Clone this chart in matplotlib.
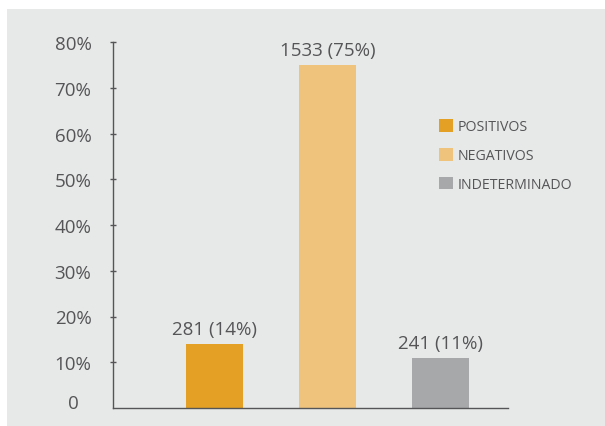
import matplotlib
matplotlib.use('Agg')
import matplotlib.pyplot as plt
from matplotlib.patches import Rectangle, Patch

# datos
categorias = ['POSITIVOS', 'NEGATIVOS', 'INDETERMINADO']
casos = [281, 1533, 241]
porcentajes = [14, 75, 11]
colores = ['#e3a024', '#efc37c', '#a7a8aa']
yticks = [10, 20, 30, 40, 50, 60, 70, 80]

texto = '#555557'
fondo = '#e7e8e8'

plt.rcParams['font.family'] = ['Open Sans', 'DejaVu Sans']

fig = plt.figure(figsize=(6.05, 4.27), dpi=100)
fig.patch.set_facecolor('white')
# panel gris de fondo
fig.patches.append(Rectangle((7 / 605, 0), 1, 1 - 10 / 427, transform=fig.transFigure,
                             facecolor=fondo, edgecolor='none', zorder=-1))

ax = fig.add_axes([113 / 605, 18 / 427, 395 / 605, 366 / 427])
ax.set_facecolor('none')

x = list(range(len(categorias)))
ax.bar(x, porcentajes, width=0.5, color=colores, zorder=2)

for xi, n, p in zip(x, casos, porcentajes):
    ax.annotate('{} ({}%)'.format(n, p), (xi, p), xytext=(0, 4), textcoords='offset points',
                ha='center', va='bottom', fontsize=13.5, color=texto)

ax.set_xlim(-0.898, 2.597)
ax.set_ylim(0, 80)

for s in ['top', 'right']:
    ax.spines[s].set_visible(False)
for s in ['left', 'bottom']:
    ax.spines[s].set_color(texto)
    ax.spines[s].set_linewidth(1.0)

ax.set_xticks([])
ax.set_yticks(yticks)
ax.set_yticklabels(['{}%'.format(v) for v in yticks])
ax.tick_params(axis='y', direction='inout', length=5, width=1.0, color=texto,
               labelcolor=texto, labelsize=13.5, pad=26.3)
for lbl in ax.get_yticklabels():
    lbl.set_horizontalalignment('center')

# etiqueta del cero
ax.annotate('0', (-0.898, 0), xytext=(-28.8, 3.6), textcoords='offset points',
            ha='center', va='center', fontsize=13.5, color=texto, annotation_clip=False)

handles = [Patch(facecolor=c, edgecolor='none') for c in colores]
leg = ax.legend(handles, categorias, loc='center left', bbox_to_anchor=(439 / 605, 1 - 156.5 / 427),
                bbox_transform=fig.transFigure, frameon=False, fontsize=10.2,
                handlelength=1.0, handleheight=1.0, handletextpad=0.3, labelspacing=0.95,
                borderpad=0, borderaxespad=0)
for t in leg.get_texts():
    t.set_color(texto)

fig.savefig('out.png', dpi=100, facecolor='white')
